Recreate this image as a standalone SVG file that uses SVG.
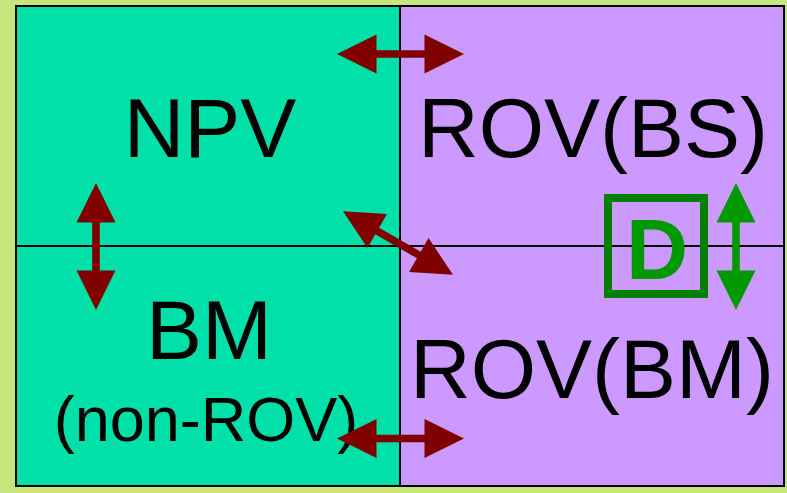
<svg xmlns="http://www.w3.org/2000/svg" xmlns:xlink="http://www.w3.org/1999/xlink" width="787" height="493" viewBox="0 0 787 493">
  <style>
    .lbl { font-family: "Liberation Sans", Arial, sans-serif; fill: #000; text-anchor: middle; }
    .teal { fill: #00E0A8; }
    .lilac { fill: #CC99FF; }
    .div { stroke: #000; stroke-width: 2; fill: none; }
    .red { fill: #800000; }
    .grn { fill: #009900; }
  </style>
  <defs>
    <path id="dbl" d="M-63.5,0 L-24,-19.5 L-24,-3.8 L24,-3.8 L24,-19.5 L63.5,0 L24,19.5 L24,3.8 L-24,3.8 L-24,19.5 Z"/>
  </defs>
  <rect width="787" height="493" fill="#C7E57D"/>
  <g id="cell-npv">
    <rect class="teal" x="16" y="6" width="384" height="240"/>
    <text class="lbl" x="210" y="157" font-size="84">NPV</text>
  </g>
  <g id="cell-rovbs">
    <rect class="lilac" x="400" y="6" width="384" height="240"/>
    <text class="lbl" x="593" y="157" font-size="84">ROV(BS)</text>
  </g>
  <g id="cell-bm">
    <rect class="teal" x="16" y="246" width="384" height="240"/>
    <text class="lbl" x="209" y="359" font-size="84">BM</text>
    <text class="lbl" x="206" y="441" font-size="63">(non-ROV)</text>
  </g>
  <g id="cell-rovbm">
    <rect class="lilac" x="400" y="246" width="384" height="240"/>
    <text class="lbl" x="592" y="398" font-size="84">ROV(BM)</text>
  </g>
  <g id="grid">
    <line class="div" x1="400" y1="6" x2="400" y2="486"/>
    <line class="div" x1="16" y1="246" x2="784" y2="246"/>
    <rect class="div" x="16" y="6" width="768" height="480"/>
  </g>
  <g id="d-box">
    <rect x="608" y="198" width="96" height="96" fill="none" stroke="#008000" stroke-width="8"/>
    <text x="657" y="279" font-size="86" font-weight="bold" fill="#009900" text-anchor="middle" font-family="Liberation Sans, Arial, sans-serif">D</text>
  </g>
  <g id="connectors">
    <use xlink:href="#dbl" class="red" transform="translate(400.5,54)"/>
    <use xlink:href="#dbl" class="red" transform="translate(400.5,438.5)"/>
    <use xlink:href="#dbl" class="red" transform="translate(96,246.5) rotate(90)"/>
    <use xlink:href="#dbl" class="red" transform="translate(398,243) rotate(30)"/>
    <use xlink:href="#dbl" class="grn" transform="translate(736,246.5) rotate(90)"/>
  </g>
</svg>
